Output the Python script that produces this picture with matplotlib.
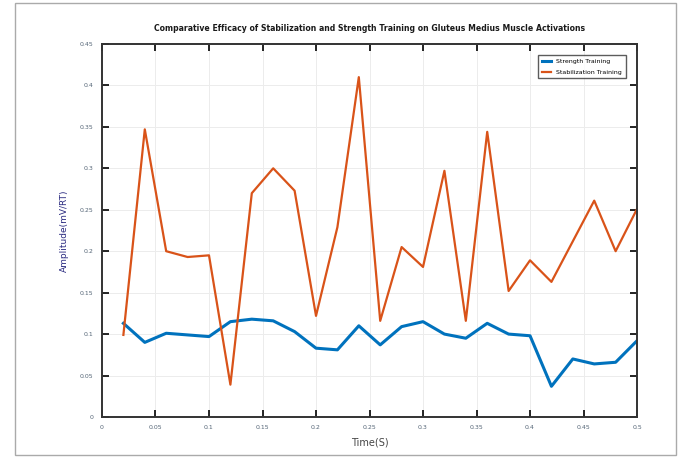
import numpy as np
import matplotlib.pyplot as plt
from matplotlib.patches import Rectangle

# time samples (s)
t = np.arange(1, 26) * 0.02

# normalised EMG amplitude
strength = [0.113, 0.090, 0.101, 0.099, 0.097, 0.115, 0.118, 0.116, 0.103, 0.083,
            0.081, 0.110, 0.087, 0.109, 0.115, 0.100, 0.095, 0.113, 0.100, 0.098,
            0.037, 0.070, 0.064, 0.066, 0.092]
stabilization = [0.099, 0.347, 0.200, 0.193, 0.195, 0.039, 0.270, 0.300, 0.273, 0.122,
                 0.229, 0.410, 0.116, 0.205, 0.181, 0.297, 0.116, 0.344, 0.152, 0.189,
                 0.163, 0.212, 0.261, 0.200, 0.251]

xticks = np.arange(0, 0.51, 0.05)
yticks = np.arange(0, 0.451, 0.05)

fig = plt.figure(figsize=(6.91, 4.63), dpi=100)
ax = fig.add_axes([0.1476, 0.0994, 0.9219 - 0.1476, 0.905 - 0.0994])

ax.plot(t, strength, color='#0072BD', lw=2.2, label='Strength Training')
ax.plot(t, stabilization, color='#D95319', lw=1.6, label='Stabilization Training')

ax.set_xlim(0, 0.5)
ax.set_ylim(0, 0.45)
ax.set_xticks(xticks)
ax.set_yticks(yticks)
ax.set_xticklabels(['%g' % v for v in xticks])
ax.set_yticklabels(['%g' % v for v in yticks])
ax.tick_params(direction='in', top=True, right=True, length=5, width=1.2,
               labelsize=4.5, labelcolor='#556677', pad=6)
ax.grid(True, color='#ececec', lw=0.7)
for s in ax.spines.values():
    s.set_linewidth(1.4)
    s.set_color('#333333')

ax.set_xlabel('Time(S)', fontsize=7, family='Liberation Sans Narrow', color='#444444', labelpad=5)
ax.set_ylabel('Amplitude(mV/RT)', fontsize=6.5, family='Liberation Sans Narrow', color='#2a2a80', labelpad=8)
ax.set_title('Comparative Efficacy of Stabilization and Strength Training on Gluteus Medius Muscle Activations',
             fontsize=5.6, family='Liberation Sans Narrow', fontweight='bold', color='#1a1a1a', pad=9)

leg = ax.legend(loc='upper right', fontsize=4.5, frameon=True, fancybox=False,
                edgecolor='#333333', handlelength=1.5, borderpad=0.6,
                labelspacing=0.9, bbox_to_anchor=(0.985, 0.98))
leg.get_frame().set_linewidth(1.0)

# outer frame
fig.patches.append(Rectangle((15 / 691, 1 - 455 / 463), 661 / 691, 452 / 463,
                             transform=fig.transFigure, fill=False,
                             edgecolor='#aaaaaa', lw=1.0))

fig.savefig('out.png', dpi=100)
